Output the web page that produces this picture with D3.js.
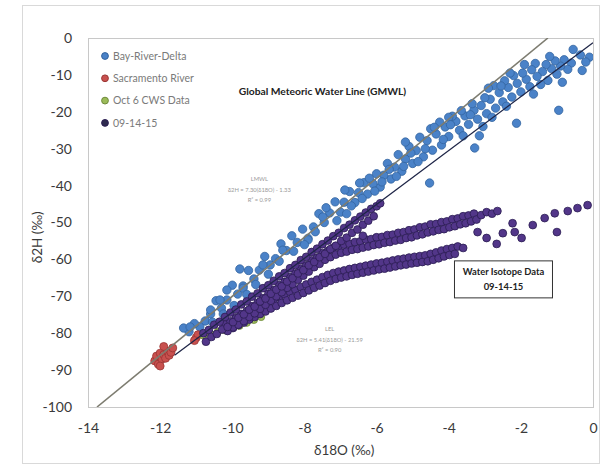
<!DOCTYPE html>
<html>
<head>
<meta charset="utf-8">
<script src="https://cdn.jsdelivr.net/npm/d3@7"></script>
<style>
    body { margin: 0; background: #fff; }
    svg { display: block; font-family: Lato, "Open Sans", sans-serif; }
</style>
</head>
<body>
<svg class="isoChart"></svg>
<script>
// tick labels
let xTicks = [-14, -12, -10, -8, -6, -4, -2, 0];
let yTicks = [0, -10, -20, -30, -40, -50, -60, -70, -80, -90, -100];

// series names + colours (legend order)
let seriesNames = ["Bay-River-Delta", "Sacramento River", "Oct 6 CWS Data", "09-14-15"];
let seriesFill = ["#4a82c8", "#c8504e", "#9bbb59", "#523689"];
let seriesStroke = ["#34649f", "#9a3533", "#6f8a3a", "#2b1d52"];

// [d18O, d2H] pairs
let bayRiverDelta = [
    [-0.1,-5.2],[-0.2,-6.5],[-0.35,-4.6],[-0.55,-3.1],[-0.6,-6.8],[-0.7,-8.5],[-0.8,-5.9],[-0.9,-7.6],
    [-1.0,-9.8],[-1.05,-6.2],[-1.15,-8.3],[-1.25,-11.5],[-1.3,-7.2],[-1.4,-9.1],[-1.45,-12.6],[-1.55,-10.4],
    [-1.6,-6.9],[-1.7,-8.6],[-1.75,-13.2],[-1.85,-11.2],[-1.95,-9.5],[-2.0,-14.6],[-2.1,-12.3],[-2.2,-10.2],
    [-2.25,-16.0],[-2.35,-13.4],[-2.45,-11.6],[-2.5,-17.3],[-2.6,-14.8],[-2.7,-19.0],[-2.75,-12.9],[-2.85,-16.6],
    [-2.95,-20.5],[-3.0,-16.2],[-3.1,-18.3],[-3.2,-22.0],[-3.3,-19.6],[-3.35,-17.8],[-3.45,-23.4],[-3.55,-21.1],
    [-3.65,-19.7],[-3.7,-25.0],[-3.8,-22.6],[-3.9,-21.2],[-4.0,-26.7],[-4.1,-24.1],[-4.2,-29.0],[-4.25,-22.8],
    [-4.35,-26.0],[-4.45,-30.4],[-4.5,-24.6],[-4.6,-27.8],[-4.7,-32.2],[-4.8,-26.9],[-4.9,-30.5],[-5.0,-34.0],
    [-5.1,-29.4],[-5.2,-32.8],[-5.3,-36.1],[-5.4,-31.6],[-5.5,-35.0],[-5.6,-38.2],[-5.7,-34.0],[-5.8,-37.2],
    [-5.9,-40.4],[-6.0,-36.8],[-6.1,-39.5],[-6.25,-42.3],[-6.35,-39.2],[-6.5,-41.9],[-6.6,-44.6],[-6.75,-41.6],
    [-6.9,-44.5],[-7.0,-47.2],[-7.15,-44.4],[-7.3,-47.4],[-7.45,-50.0],[-7.6,-47.6],[-7.75,-51.2],[-7.9,-54.3],
    [-8.05,-51.8],[-8.2,-55.4],[-8.35,-53.6],[-8.5,-57.6],[-8.65,-55.8],[-8.8,-59.8],[-8.95,-61.5],[-9.1,-59.2],
    [-9.25,-62.9],[-9.4,-65.3],[-9.55,-63.0],[-9.7,-67.2],[-9.85,-69.4],[-10.0,-67.0],[-10.15,-71.0],[-10.3,-73.2],
    [-10.45,-71.2],[-10.6,-74.8],[-10.75,-76.7],[-10.9,-78.3],[-11.05,-77.4],[-11.2,-79.6],[-11.35,-78.6],
    [-0.95,-19.6],[-2.12,-23.1],[-3.28,-29.8],[-4.53,-39.3],[-6.88,-41.2],[-6.47,-39.3],[-9.79,-62.6],
    [-9.15,-61.5],[-8.6,-57.5],[-7.9,-54.7],[-7.49,-48.5],[-6.83,-47.6],[-10.15,-68.3],[-9.7,-67.8],
    [-10.34,-71.0],[-10.6,-73.7],[-11.17,-78.3],[-5.2,-28.2],[-4.0,-21.5],[-2.9,-13.6],[-1.9,-7.2],[-0.3,-8.8],
    [-1.2,-5.0],[-2.3,-9.5],[-2.55,-13.0],[-2.8,-21.5],[-3.05,-24.0],[-3.4,-20.8],[-3.6,-26.5],[-3.95,-23.5],
    [-4.15,-27.5],[-4.4,-24.2],[-4.65,-30.0],[-4.85,-33.5],[-5.05,-31.2],[-5.25,-34.8],[-5.45,-37.5],[-5.65,-35.6],
    [-5.85,-39.0],[-6.05,-41.5],[-6.2,-38.0],[-6.4,-43.5],[-6.7,-45.5],[-7.1,-49.5],[-7.4,-46.0],[-7.7,-52.5],
    [-8.0,-56.0],[-8.3,-57.8],[-8.7,-60.5],[-9.0,-64.0],[-9.35,-66.8],[-9.6,-69.5],[-9.95,-72.5],[-10.25,-74.8],
    [-10.55,-77.0],[-0.85,-12.0],[-1.65,-15.2],[-2.4,-18.5],[-3.15,-26.5]
];

let sacramentoRiver = [
    [-12.15,-87.5],[-12.1,-86.2],[-12.05,-88.4],[-12.0,-85.4],[-11.95,-87.0],[-11.9,-85.8],[-11.85,-86.8],
    [-11.8,-84.8],[-11.75,-86.0],[-11.7,-85.2],[-11.65,-84.0],[-12.0,-88.9],[-11.9,-83.6],
    [-11.0,-81.2],[-10.95,-80.4],[-11.05,-82.0]
];

let oct6Cws = [
    [-10.8,-80.6],[-10.6,-80.2],[-10.4,-79.6],[-10.2,-79.2],[-10.0,-78.6],[-9.8,-78.0],
    [-9.6,-77.2],[-9.4,-76.4],[-9.2,-75.6]
];

// 09-14-15: upper band along the LMWL
let sep14Upper = [
    [-10.8,-80.0],[-10.73,-82.3],[-10.65,-79.1],[-10.58,-81.0],[-10.5,-77.7],[-10.43,-80.2],[-10.35,-76.9],[-10.28,-79.0],
    [-10.2,-75.6],[-10.13,-78.3],[-10.05,-74.4],[-9.98,-77.0],[-9.9,-73.6],[-9.83,-75.8],[-9.75,-72.2],[-9.68,-74.9],
    [-9.6,-71.4],[-9.53,-73.6],[-9.45,-70.1],[-9.38,-72.8],[-9.3,-69.2],[-9.23,-71.4],[-9.15,-67.8],[-9.08,-70.6],
    [-9.0,-67.0],[-8.93,-69.3],[-8.85,-65.8],[-8.78,-68.2],[-8.7,-64.6],[-8.63,-67.3],[-8.55,-63.7],[-8.48,-66.0],
    [-8.4,-62.4],[-8.33,-65.1],[-8.25,-61.5],[-8.18,-63.8],[-8.1,-60.2],[-8.03,-62.9],[-7.95,-59.3],[-7.88,-61.6],
    [-7.8,-58.0],[-7.73,-60.7],[-7.65,-57.1],[-7.58,-59.4],[-7.5,-55.9],[-7.43,-58.5],[-7.35,-54.9],[-7.28,-57.2],
    [-7.2,-53.7],[-7.13,-56.3],[-7.05,-52.8],[-6.98,-55.0],[-6.9,-51.5],[-6.83,-54.1],[-6.75,-50.6],[-6.68,-52.8],
    [-6.6,-49.4],[-6.53,-51.9],[-6.45,-48.4],[-6.38,-50.6],[-6.3,-47.3],[-6.23,-49.5],[-6.15,-46.3],[-6.08,-48.3],
    [-6.0,-45.6],[-5.9,-44.8]
];

// 09-14-15: middle branch
let sep14Middle = [
    [-10.2,-77.6],[-10.13,-79.4],[-10.05,-76.8],[-9.98,-78.4],[-9.9,-75.9],[-9.83,-77.7],[-9.75,-74.8],[-9.68,-76.7],
    [-9.6,-74.0],[-9.53,-75.6],[-9.45,-72.7],[-9.38,-74.6],[-9.3,-71.8],[-9.23,-73.4],[-9.15,-70.5],[-9.08,-72.3],
    [-9.0,-69.3],[-8.93,-71.2],[-8.85,-68.3],[-8.78,-70.0],[-8.7,-67.0],[-8.63,-68.9],[-8.55,-66.1],[-8.48,-67.7],
    [-8.4,-64.8],[-8.33,-66.7],[-8.25,-63.8],[-8.18,-65.5],[-8.1,-62.5],[-8.03,-64.4],[-7.95,-61.6],[-7.88,-63.3],
    [-7.8,-60.3],[-7.73,-62.1],[-7.65,-59.5],[-7.58,-61.2],[-7.5,-58.3],[-7.43,-60.1],[-7.35,-57.7],[-7.28,-59.4],
    [-7.2,-56.8],[-7.13,-58.7],[-7.05,-56.6],[-6.98,-58.2],[-6.9,-56.0],[-6.83,-57.9],[-6.75,-55.8],[-6.68,-57.4],
    [-6.6,-55.3],[-6.53,-57.2],[-6.45,-55.1],[-6.38,-56.8],[-6.3,-54.6],[-6.23,-56.5],[-6.15,-54.5],[-6.08,-56.1],
    [-6.0,-54.0],[-5.93,-55.9],[-5.85,-53.9],[-5.78,-55.5],[-5.7,-53.4],[-5.63,-55.3],[-5.55,-53.3],[-5.48,-54.9],
    [-5.4,-52.8],[-5.33,-54.7],[-5.25,-52.6],[-5.18,-54.2],[-5.1,-52.1],[-5.03,-54.0],[-4.95,-51.9],[-4.88,-53.5],
    [-4.8,-51.3],[-4.73,-53.2],[-4.65,-51.1],[-4.58,-52.7],[-4.5,-50.5],[-4.43,-52.4],[-4.35,-50.4],[-4.28,-52.0],
    [-4.2,-49.9],[-4.13,-51.8],[-4.05,-49.7],[-3.98,-51.3],[-3.9,-49.1],[-3.83,-51.0],[-3.75,-48.9],[-3.68,-50.5],
    [-3.6,-48.3],[-3.53,-50.2],[-3.45,-48.1],[-3.38,-49.7],[-3.3,-47.6],[-3.23,-49.2],
    [-3.1,-48.0],[-2.95,-47.2],[-2.8,-47.6],[-2.65,-46.9]
];

// 09-14-15: lower branch
let sep14Lower = [
    [-10.05,-77.0],[-9.98,-78.6],[-9.9,-76.2],[-9.83,-77.8],[-9.75,-75.5],[-9.68,-77.1],[-9.6,-74.7],[-9.53,-76.3],
    [-9.45,-74.0],[-9.38,-75.6],[-9.3,-73.2],[-9.23,-74.8],[-9.15,-72.5],[-9.08,-74.1],[-9.0,-71.7],[-8.93,-73.3],
    [-8.85,-71.0],[-8.78,-72.6],[-8.7,-70.2],[-8.63,-71.8],[-8.55,-69.5],[-8.48,-71.1],[-8.4,-68.8],[-8.33,-70.4],
    [-8.25,-68.2],[-8.18,-69.8],[-8.1,-67.5],[-8.03,-69.1],[-7.95,-66.8],[-7.88,-68.4],[-7.8,-66.1],[-7.73,-67.7],
    [-7.65,-65.5],[-7.58,-67.1],[-7.5,-64.8],[-7.43,-66.4],[-7.35,-64.2],[-7.28,-65.8],[-7.2,-63.7],[-7.13,-65.3],
    [-7.05,-63.3],[-6.98,-64.9],[-6.9,-63.0],[-6.83,-64.6],[-6.75,-62.6],[-6.68,-64.2],[-6.6,-62.3],[-6.53,-63.9],
    [-6.45,-62.0],[-6.38,-63.6],[-6.3,-61.7],[-6.23,-63.3],[-6.15,-61.4],[-6.08,-63.0],[-6.0,-61.1],[-5.93,-62.7],
    [-5.85,-60.9],[-5.78,-62.5],[-5.7,-60.6],[-5.63,-62.2],[-5.55,-60.3],[-5.48,-61.9],[-5.4,-60.0],[-5.33,-61.6],
    [-5.25,-59.8],[-5.18,-61.4],[-5.1,-59.5],[-5.03,-61.1],[-4.95,-59.3],[-4.88,-60.9],[-4.8,-59.1],[-4.73,-60.7],
    [-4.65,-58.9],[-4.58,-60.5],[-4.5,-58.5],[-4.43,-60.1],[-4.35,-58.1],[-4.28,-59.7],[-4.2,-57.6],[-4.13,-59.2],
    [-4.05,-57.2],[-3.98,-58.8],[-3.9,-56.9],[-3.83,-58.5],[-3.75,-56.5],[-3.6,-56.9]
];

// 09-14-15: loose points at the enriched end
let sep14Scatter = [
    [-3.2,-52.6],[-2.95,-54.2],[-2.67,-55.8],[-2.5,-52.9],[-2.23,-50.2],[-2.17,-52.6],[-1.98,-54.2],
    [-1.67,-50.7],[-1.34,-48.8],[-1.06,-47.5],[-1.0,-52.6],[-0.7,-46.9],[-0.43,-46.1],[-0.15,-45.3],
    [-6.38,-53.6]
];

// reference lines: slope, intercept, x range
let gmwl = { slope: 8, intercept: 10, from: -13.75, to: -1.25 };
let lmwl = { slope: 7.3, intercept: -1.3, from: -11.6, to: 0 };

let margin = {top: 38, right: 10, bottom: 59, left: 88};
let width = 603 - margin.left - margin.right;
let height = 466 - margin.top - margin.bottom;

let x = d3.scaleLinear().domain([-14, 0]).range([0, width]);
let y = d3.scaleLinear().domain([-100, 0]).range([height, 0]);

let root = d3.select(".isoChart")
    .attr("width", 603)
    .attr("height", 466);

// chart frame
root.append("rect")
    .attr("x", 22.5).attr("y", 5.5)
    .attr("width", 577).attr("height", 458)
    .attr("fill", "#fff")
    .attr("stroke", "#d9d9d9");

let svg = root.append("g")
    .attr("transform", "translate(" + margin.left + "," + margin.top + ")");

// plot area border
svg.append("rect")
    .attr("x", 0.5).attr("y", 0.5)
    .attr("width", width).attr("height", height)
    .attr("fill", "none")
    .attr("stroke", "#c8c8c8");

// axes (plain hyphen minus, as in Excel)
let plain = function(d) { return String(d); };
let xAxis = svg.append("g")
    .attr("transform", `translate(0, ${height})`)
    .call(d3.axisBottom(x).tickValues(xTicks).tickFormat(plain).tickSize(0).tickPadding(16));
let yAxis = svg.append("g")
    .call(d3.axisLeft(y).tickValues(yTicks).tickFormat(plain).tickSize(0).tickPadding(16));

[xAxis, yAxis].forEach(function(a) {
    a.select(".domain").remove();
    a.selectAll("text")
        .attr("fill", "#3a3a3a")
        .style("font-size", "14px")
        .style("font-family", "Lato, sans-serif");
});

// axis titles
svg.append("text")
    .attr("x", x(-6.9)).attr("y", height + 48)
    .attr("text-anchor", "middle")
    .attr("fill", "#3a3a3a")
    .style("font-size", "13.5px")
    .text("δ18O (‰)");

svg.append("text")
    .attr("transform", `translate(${-46}, ${y(-54)}) rotate(-90)`)
    .attr("text-anchor", "middle")
    .attr("fill", "#3a3a3a")
    .style("font-size", "13.5px")
    .text("δ2H (‰)");

// plot clip
svg.append("clipPath").attr("id", "plotClip")
    .append("rect").attr("width", width).attr("height", height);

let plot = svg.append("g").attr("clip-path", "url(#plotClip)");

function drawSeries(data, i, r) {
    plot.append("g")
        .selectAll("circle")
        .data(data)
        .enter().append("circle")
        .attr("cx", function(d) { return x(d[0]); })
        .attr("cy", function(d) { return y(d[1]); })
        .attr("r", r)
        .attr("fill", seriesFill[i])
        .attr("stroke", seriesStroke[i])
        .attr("stroke-width", 0.8);
}

drawSeries(bayRiverDelta, 0, 4.2);
drawSeries(sacramentoRiver, 1, 4);
drawSeries(oct6Cws, 2, 3.6);
drawSeries(sep14Lower.concat(sep14Middle, sep14Upper, sep14Scatter), 3, 3.9);

// trend lines
let valueline = d3.line()
    .x(function(d) { return x(d); });

plot.append("path")
    .datum([lmwl.from, lmwl.to])
    .attr("d", valueline.y(function(d) { return y(lmwl.slope * d + lmwl.intercept); }))
    .attr("stroke", "#1e2547")
    .attr("stroke-width", 1.3)
    .attr("fill", "none");

plot.append("path")
    .datum([gmwl.from, gmwl.to])
    .attr("d", valueline.y(function(d) { return y(gmwl.slope * d + gmwl.intercept); }))
    .attr("stroke", "#7d7c70")
    .attr("stroke-width", 1.6)
    .attr("fill", "none");

// legend
let legend = svg.append("g").attr("transform", "translate(17, 18)");
seriesNames.forEach(function(name, i) {
    let row = legend.append("g").attr("transform", `translate(0, ${i * 22.3})`);
    row.append("circle")
        .attr("r", 3.4)
        .attr("fill", i === 3 ? "#2f2b4f" : seriesFill[i])
        .attr("stroke", seriesStroke[i]);
    row.append("text")
        .attr("x", 8).attr("y", 3.8)
        .attr("fill", "#7a7a7a")
        .style("font-size", "10.5px")
        .text(name);
});

// annotations
svg.append("text")
    .attr("x", x(-7.5)).attr("y", y(-15.5))
    .attr("text-anchor", "middle")
    .attr("fill", "#222")
    .style("font-size", "10.3px")
    .style("font-weight", "bold")
    .text("Global Meteoric Water Line (GMWL)");

let eqLines = [
    {cx: -9.25, cy: -38.8, rows: ["LMWL", "δ2H = 7.30(δ18O) - 1.33", "R² = 0.99"]},
    {cx: -7.3, cy: -79.5, rows: ["LEL", "δ2H = 5.41(δ18O) - 21.59", "R² = 0.90"]}
];
eqLines.forEach(function(eq) {
    eq.rows.forEach(function(t, j) {
        svg.append("text")
            .attr("x", x(eq.cx)).attr("y", y(eq.cy) + j * 10.5)
            .attr("text-anchor", "middle")
            .attr("fill", "#9a9a9a")
            .style("font-size", "5.8px")
            .text(t);
    });
});

// boxed label
let box = svg.append("g").attr("transform", `translate(${x(-3.84)}, ${y(-60.4)})`);
box.append("rect")
    .attr("width", 98).attr("height", 37)
    .attr("fill", "#fff")
    .attr("stroke", "#333")
    .attr("stroke-width", 1);
box.append("text")
    .attr("x", 49).attr("y", 14)
    .attr("text-anchor", "middle")
    .attr("fill", "#222")
    .style("font-size", "9.4px")
    .style("font-weight", "bold")
    .text("Water Isotope Data");
box.append("text")
    .attr("x", 49).attr("y", 29)
    .attr("text-anchor", "middle")
    .attr("fill", "#222")
    .style("font-size", "9.4px")
    .style("font-weight", "bold")
    .text("09-14-15");
</script>
</body>
</html>
